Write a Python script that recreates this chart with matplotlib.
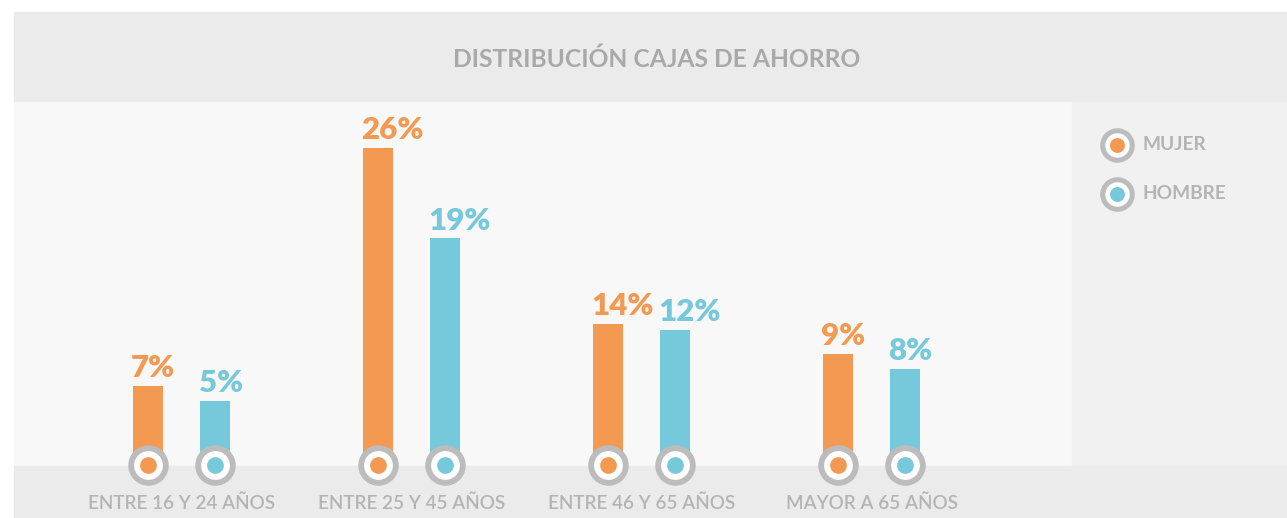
import matplotlib
matplotlib.use("Agg")
import matplotlib.pyplot as plt
from matplotlib.patches import Rectangle

# ---- data ----
categories = ["ENTRE 16 Y 24 AÑOS", "ENTRE 25 Y 45 AÑOS", "ENTRE 46 Y 65 AÑOS", "MAYOR A 65 AÑOS"]
series_names = ["MUJER", "HOMBRE"]
mujer_pct = [7, 26, 14, 9]
hombre_pct = [5, 19, 12, 8]
# bar lengths as drawn in the reference (in % units)
mujer_bar = [6.5, 26.0, 11.6, 9.1]
hombre_bar = [5.25, 18.6, 11.1, 7.9]
title = "DISTRIBUCIÓN CAJAS DE AHORRO"

ORANGE = "#f39952"
BLUE = "#76c9db"
RING = "#bcbcbc"
TXT = "#b4b4b4"
TITLE_C = "#a9a9a9"

W, H = 1287, 518
fig = plt.figure(figsize=(W / 100, H / 100), dpi=100, facecolor="white")
plt.rcParams["font.family"] = ["Lato", "DejaVu Sans"]

def fx(px):
    return px / W

def fy(py):
    return 1 - py / H

# background panels (figure coords)
for (x0, y0, w, h, c) in [(14, 102, 1287 - 14, 90, "#ebebeb"),
                          (14, 466, 1072 - 14, 364, "#f8f8f8"),
                          (1072, 466, 1287 - 1072, 364, "#f1f1f1"),
                          (14, 518, 1287 - 14, 52, "#ebebeb")]:
    fig.patches.append(Rectangle((fx(x0), fy(y0)), fx(w), h / H,
                                 transform=fig.transFigure, color=c, zorder=-5))

fig.text(fx(657), fy(59), title, ha="center", va="center", fontsize=17.7,
         fontweight="bold", color=TITLE_C)

# main axes
ax = fig.add_axes([fx(14), fy(465), fx(1072 - 14), (465 - 102) / H])
ax.set_facecolor("none")
ax.set_xlim(-0.729, 3.871)
ax.set_ylim(0, (465 - 102) / 12.19)
ax.axis("off")

x = list(range(len(categories)))
off = 0.1467
bw = 0.1304
xm = [i - off for i in x]
xh = [i + off for i in x]
ax.bar(xm, mujer_bar, width=bw, color=ORANGE, zorder=2)
ax.bar(xh, hombre_bar, width=bw, color=BLUE, zorder=2)

for xs, vals, pcts, col in [(xm, mujer_bar, mujer_pct, ORANGE), (xh, hombre_bar, hombre_pct, BLUE)]:
    for xi, v, p in zip(xs, vals, pcts):
        ax.text(xi - bw / 2 - 0.008, v + 0.3, f"{p}%", ha="left", va="bottom",
                fontsize=22.5, fontweight="heavy", color=col, zorder=4)
    ax.scatter(xs, [0] * len(xs), s=850, color=RING, zorder=5, clip_on=False, linewidths=0)
    ax.scatter(xs, [0] * len(xs), s=430, color="white", zorder=6, clip_on=False, linewidths=0)
    ax.scatter(xs, [0] * len(xs), s=145, color=col, zorder=7, clip_on=False, linewidths=0)

for xi, c in zip(x, categories):
    ax.text(xi, -(503 - 465) / 363, c, transform=ax.get_xaxis_transform(),
            ha="center", va="center", fontsize=13.6, color=TXT, clip_on=False,
            fontweight="semibold")

# legend panel
lax = fig.add_axes([fx(1072), fy(466), fx(1287 - 1072), 364 / H])
lax.set_facecolor("none")
lax.set_xlim(1072, 1287)
lax.set_ylim(466, 102)
lax.axis("off")
for name, col, yy in zip(series_names, [ORANGE, BLUE], [145, 194]):
    lax.scatter([1117], [yy], s=620, color=RING, zorder=5, linewidths=0)
    lax.scatter([1117], [yy], s=310, color="white", zorder=6, linewidths=0)
    lax.scatter([1117], [yy], s=115, color=col, zorder=7, linewidths=0)
    lax.text(1143, yy, name, ha="left", va="center", fontsize=13.8,
             color=TXT, fontweight="bold")

fig.savefig("out.png", dpi=100, facecolor="white")
